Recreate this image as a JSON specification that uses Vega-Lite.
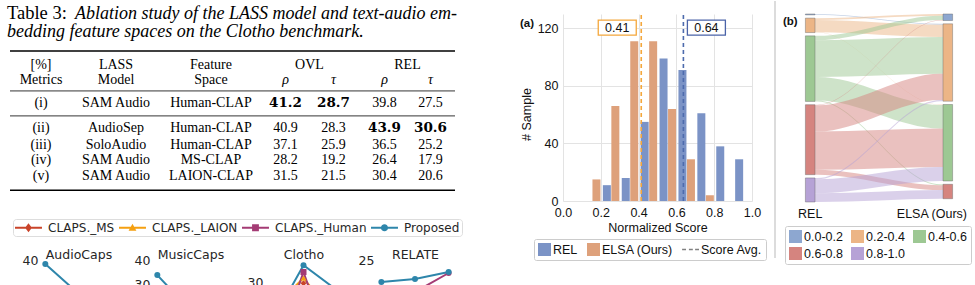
{
  "$schema": "https://vega.github.io/schema/vega-lite/v6.json",
  "padding": 0,
  "background": "white",
  "bounds": "flush",
  "spacing": 24,
  "config": {"view": {"stroke": null}, "font": "Liberation Sans"},
  "resolve": {"scale": {"color": "independent", "fill": "independent", "stroke": "independent", "shape": "independent"}, "legend": {"color": "independent", "fill": "independent", "stroke": "independent", "shape": "independent"}},
  "datasets": {
    "table": [
      {"m": "(i)", "model": "SAM Audio", "space": "Human-CLAP", "or": 41.2, "ot": 28.7, "rr": 39.8, "rt": 27.5},
      {"m": "(ii)", "model": "AudioSep", "space": "Human-CLAP", "or": 40.9, "ot": 28.3, "rr": 43.9, "rt": 30.6},
      {"m": "(iii)", "model": "SoloAudio", "space": "Human-CLAP", "or": 37.1, "ot": 25.9, "rr": 36.5, "rt": 25.2},
      {"m": "(iv)", "model": "SAM Audio", "space": "MS-CLAP", "or": 28.2, "ot": 19.2, "rr": 26.4, "rt": 17.9},
      {"m": "(v)", "model": "SAM Audio", "space": "LAION-CLAP", "or": 31.5, "ot": 21.5, "rr": 30.4, "rt": 20.6}
    ],
    "cols": [
      {"key": "m", "h1": "[%]", "h2": "Metrics", "grp": ""},
      {"key": "model", "h1": "LASS", "h2": "Model", "grp": ""},
      {"key": "space", "h1": "Feature", "h2": "Space", "grp": ""},
      {"key": "or", "h1": "", "h2": "ρ", "grp": "OVL"},
      {"key": "ot", "h1": "", "h2": "τ", "grp": "OVL"},
      {"key": "rr", "h1": "", "h2": "ρ", "grp": "REL"},
      {"key": "rt", "h1": "", "h2": "τ", "grp": "REL"}
    ],
    "perf": [
      {"ds": "AudioCaps", "method": "Proposed", "x": 0, "v": 38.3},
      {"ds": "AudioCaps", "method": "Proposed", "x": 1, "v": 26},
      {"ds": "AudioCaps", "method": "Proposed", "x": 2, "v": 22},
      {"ds": "MusicCaps", "method": "Proposed", "x": 0, "v": 33.7},
      {"ds": "MusicCaps", "method": "Proposed", "x": 1, "v": 19},
      {"ds": "MusicCaps", "method": "Proposed", "x": 2, "v": 16},
      {"ds": "Clotho", "method": "CLAPS._MS", "x": 0, "v": 0},
      {"ds": "Clotho", "method": "CLAPS._MS", "x": 1, "v": 29.6},
      {"ds": "Clotho", "method": "CLAPS._MS", "x": 2, "v": 0},
      {"ds": "Clotho", "method": "CLAPS._LAION", "x": 0, "v": 19.9},
      {"ds": "Clotho", "method": "CLAPS._LAION", "x": 1, "v": 31.4},
      {"ds": "Clotho", "method": "CLAPS._LAION", "x": 2, "v": 16.8},
      {"ds": "Clotho", "method": "CLAPS._Human", "x": 0, "v": 0},
      {"ds": "Clotho", "method": "CLAPS._Human", "x": 1, "v": 33.5},
      {"ds": "Clotho", "method": "CLAPS._Human", "x": 2, "v": 0},
      {"ds": "Clotho", "method": "Proposed", "x": 0, "v": 15},
      {"ds": "Clotho", "method": "Proposed", "x": 1, "v": 35.9},
      {"ds": "Clotho", "method": "Proposed", "x": 2, "v": 27.2},
      {"ds": "RELATE", "method": "CLAPS._Human", "x": 0, "v": 5},
      {"ds": "RELATE", "method": "CLAPS._Human", "x": 1, "v": 9},
      {"ds": "RELATE", "method": "CLAPS._Human", "x": 2, "v": 18.5},
      {"ds": "RELATE", "method": "Proposed", "x": 0, "v": 14},
      {"ds": "RELATE", "method": "Proposed", "x": 1, "v": 15.5},
      {"ds": "RELATE", "method": "Proposed", "x": 2, "v": 19}
    ],
    "hist": [
      {"series": "ELSA (Ours)", "score": 0.177, "count": 15},
      {"series": "ELSA (Ours)", "score": 0.277, "count": 66},
      {"series": "ELSA (Ours)", "score": 0.377, "count": 111},
      {"series": "ELSA (Ours)", "score": 0.477, "count": 111},
      {"series": "ELSA (Ours)", "score": 0.577, "count": 64},
      {"series": "ELSA (Ours)", "score": 0.677, "count": 29},
      {"series": "ELSA (Ours)", "score": 0.777, "count": 4},
      {"series": "REL", "score": 0.232, "count": 11},
      {"series": "REL", "score": 0.332, "count": 16},
      {"series": "REL", "score": 0.432, "count": 55},
      {"series": "REL", "score": 0.532, "count": 99},
      {"series": "REL", "score": 0.632, "count": 91},
      {"series": "REL", "score": 0.732, "count": 61},
      {"series": "REL", "score": 0.832, "count": 38},
      {"series": "REL", "score": 0.932, "count": 29}
    ],
    "avgs": [
      {"series": "REL", "avg": 0.637},
      {"series": "ELSA (Ours)", "avg": 0.414}
    ],
    "links": [
      {"src": "0.0-0.2", "tgt": "0.2-0.4", "n": 2},
      {"src": "0.2-0.4", "tgt": "0.0-0.2", "n": 4},
      {"src": "0.2-0.4", "tgt": "0.2-0.4", "n": 28},
      {"src": "0.2-0.4", "tgt": "0.4-0.6", "n": 1},
      {"src": "0.4-0.6", "tgt": "0.0-0.2", "n": 10},
      {"src": "0.4-0.6", "tgt": "0.2-0.4", "n": 84},
      {"src": "0.4-0.6", "tgt": "0.4-0.6", "n": 54},
      {"src": "0.4-0.6", "tgt": "0.6-0.8", "n": 2},
      {"src": "0.6-0.8", "tgt": "0.0-0.2", "n": 1},
      {"src": "0.6-0.8", "tgt": "0.2-0.4", "n": 60},
      {"src": "0.6-0.8", "tgt": "0.4-0.6", "n": 88},
      {"src": "0.6-0.8", "tgt": "0.6-0.8", "n": 11},
      {"src": "0.8-1.0", "tgt": "0.2-0.4", "n": 3},
      {"src": "0.8-1.0", "tgt": "0.4-0.6", "n": 32},
      {"src": "0.8-1.0", "tgt": "0.6-0.8", "n": 20}
    ]
  },
  "hconcat": [
    {
      "width": 539,
      "height": 285,
      "resolve": {
        "scale": {"x": "independent", "y": "independent", "color": "independent", "fill": "independent", "stroke": "independent", "shape": "independent"},
        "axis": {"x": "independent", "y": "independent"},
        "legend": {"color": "independent", "fill": "independent", "stroke": "independent", "shape": "independent"}
      },
      "layer": [
        {
          "data": {"values": [{}]},
          "layer": [
            {"mark": {"type": "text", "text": "Table 3:", "font": "Liberation Serif", "fontSize": 18.5, "align": "left", "baseline": "alphabetic", "dx": -3, "color": "#000"},
             "encoding": {"x": {"datum": -1, "type": "quantitative", "scale": {"domain": [-1,0,1,2,3,4,5,6,7], "range": [10,41,116,211,285.5,333.5,384.5,430.5,455], "nice": false, "zero": false}, "axis": null},
                          "y": {"datum": 0, "type": "quantitative", "scale": {"domain": [0,1,2,3,4,5,6,7,8,9], "range": [18,36,67.7,82.7,106,130.7,147.7,163.3,179,189.3], "nice": false, "zero": false}, "axis": null}}},
            {"mark": {"type": "text", "text": "Ablation study of the LASS model and text-audio em-", "font": "Liberation Serif", "fontSize": 18, "fontStyle": "italic", "align": "left", "baseline": "alphabetic", "dx": 65, "color": "#000"},
             "encoding": {"x": {"datum": -1, "type": "quantitative", "axis": null}, "y": {"datum": 0, "type": "quantitative", "axis": null}}},
            {"mark": {"type": "text", "text": "bedding feature spaces on the Clotho benchmark.", "font": "Liberation Serif", "fontSize": 18, "fontStyle": "italic", "align": "left", "baseline": "alphabetic", "dx": -3, "color": "#000"},
             "encoding": {"x": {"datum": -1, "type": "quantitative", "axis": null}, "y": {"datum": 1, "type": "quantitative", "axis": null}}},
            {"mark": {"type": "rule", "strokeWidth": 1.4, "color": "#000"},
             "encoding": {"x": {"datum": -1, "type": "quantitative", "axis": null}, "x2": {"datum": 7}, "y": {"datum": 1.44, "type": "quantitative", "axis": null}}},
            {"mark": {"type": "rule", "strokeWidth": 0.8, "color": "#000"},
             "encoding": {"x": {"datum": -1, "type": "quantitative", "axis": null}, "x2": {"datum": 7}, "y": {"datum": 3.31, "type": "quantitative", "axis": null}}},
            {"mark": {"type": "rule", "strokeWidth": 0.8, "color": "#000"},
             "encoding": {"x": {"datum": -1, "type": "quantitative", "axis": null}, "x2": {"datum": 7}, "y": {"datum": 4.36, "type": "quantitative", "axis": null}}},
            {"mark": {"type": "rule", "strokeWidth": 1.4, "color": "#000"},
             "encoding": {"x": {"datum": -1, "type": "quantitative", "axis": null}, "x2": {"datum": 7}, "y": {"datum": 9, "type": "quantitative", "axis": null}}},
            {"data": {"name": "cols"},
             "transform": [{"calculate": "indexof(['m','model','space','or','ot','rr','rt'], datum.key)", "as": "c"}, {"filter": "datum.h1 !== ''"}],
             "mark": {"type": "text", "font": "Liberation Serif", "fontSize": 14, "baseline": "alphabetic", "color": "#000"},
             "encoding": {"x": {"field": "c", "type": "quantitative", "axis": null}, "y": {"datum": 2, "type": "quantitative", "axis": null}, "text": {"field": "h1"}}},
            {"data": {"name": "cols"},
             "transform": [{"calculate": "indexof(['m','model','space','or','ot','rr','rt'], datum.key)", "as": "c"}, {"filter": "datum.grp !== ''"}, {"aggregate": [{"op": "mean", "field": "c", "as": "c"}], "groupby": ["grp"]}],
             "mark": {"type": "text", "font": "Liberation Serif", "fontSize": 14, "baseline": "alphabetic", "color": "#000"},
             "encoding": {"x": {"field": "c", "type": "quantitative", "axis": null}, "y": {"datum": 2, "type": "quantitative", "axis": null}, "text": {"field": "grp"}}},
            {"data": {"name": "cols"},
             "transform": [{"calculate": "indexof(['m','model','space','or','ot','rr','rt'], datum.key)", "as": "c"}, {"filter": "datum.c < 3"}],
             "mark": {"type": "text", "font": "Liberation Serif", "fontSize": 14, "baseline": "alphabetic", "color": "#000"},
             "encoding": {"x": {"field": "c", "type": "quantitative", "axis": null}, "y": {"datum": 3, "type": "quantitative", "axis": null}, "text": {"field": "h2"}}},
            {"data": {"name": "cols"},
             "transform": [{"calculate": "indexof(['m','model','space','or','ot','rr','rt'], datum.key)", "as": "c"}, {"filter": "datum.c >= 3"}],
             "mark": {"type": "text", "font": "Liberation Serif", "fontSize": 14, "fontStyle": "italic", "baseline": "alphabetic", "color": "#000"},
             "encoding": {"x": {"field": "c", "type": "quantitative", "axis": null}, "y": {"datum": 3, "type": "quantitative", "axis": null}, "text": {"field": "h2"}}},
            {"data": {"name": "table"},
             "transform": [
               {"window": [{"op": "row_number", "as": "rn"}]},
               {"fold": ["m", "model", "space", "or", "ot", "rr", "rt"], "as": ["key", "value"]},
               {"calculate": "indexof(['m','model','space','or','ot','rr','rt'], datum.key)", "as": "c"},
               {"calculate": "datum.rn + 3", "as": "r"},
               {"joinaggregate": [{"op": "max", "field": "value", "as": "mx"}], "groupby": ["key"]},
               {"filter": "datum.c < 3 || datum.value !== datum.mx"}
             ],
             "mark": {"type": "text", "font": "Liberation Serif", "fontSize": 14, "baseline": "alphabetic", "color": "#000"},
             "encoding": {"x": {"field": "c", "type": "quantitative", "axis": null}, "y": {"field": "r", "type": "quantitative", "axis": null}, "text": {"field": "value", "type": "nominal"}}},
            {"data": {"name": "table"},
             "transform": [
               {"window": [{"op": "row_number", "as": "rn"}]},
               {"fold": ["m", "model", "space", "or", "ot", "rr", "rt"], "as": ["key", "value"]},
               {"calculate": "indexof(['m','model','space','or','ot','rr','rt'], datum.key)", "as": "c"},
               {"calculate": "datum.rn + 3", "as": "r"},
               {"joinaggregate": [{"op": "max", "field": "value", "as": "mx"}], "groupby": ["key"]},
               {"filter": "datum.c >= 3 && datum.value === datum.mx"}
             ],
             "mark": {"type": "text", "font": "DejaVu Serif", "fontSize": 13.5, "fontWeight": "bold", "baseline": "alphabetic", "color": "#000"},
             "encoding": {"x": {"field": "c", "type": "quantitative", "axis": null}, "y": {"field": "r", "type": "quantitative", "axis": null}, "text": {"field": "value", "type": "nominal"}}}
          ]
        },
        {
          "data": {"name": "perf"},
          "transform": [{"filter": "datum.ds === 'AudioCaps'"}],
          "encoding": {
            "x": {"field": "x", "type": "quantitative", "scale": {"domain": [-0.1, 2.1], "range": [42, 115], "nice": false, "zero": false}, "axis": {"orient": "top", "values": [-0.1, 1, 2.1], "labels": false, "ticks": false, "domain": false, "title": null, "gridColor": "#e3e3e3"}},
            "y": {"field": "v", "type": "quantitative", "scale": {"domain": [29.17, 40], "range": [285, 259], "nice": false, "zero": false},
                  "axis": {"orient": "left", "offset": -42, "values": [40], "ticks": false, "domain": false, "gridColor": "#e3e3e3", "labelFont": "DejaVu Sans", "labelFontSize": 12.5, "labelColor": "#262626", "labelPadding": 4, "labelFlush": false,
                           "title": "AudioCaps", "titleAngle": 0, "titleAlign": "center", "titleBaseline": "alphabetic", "titleX": 36.5, "titleY": 257, "titleFont": "DejaVu Sans", "titleFontSize": 12.5, "titleFontWeight": "normal", "titleColor": "#262626"}},
            "color": {"field": "method", "type": "nominal", "scale": {"domain": ["CLAPS._MS", "CLAPS._LAION", "CLAPS._Human", "Proposed"], "range": ["#c9442a", "#f5a011", "#a43b74", "#2e86ab"]},
                      "legend": {"orient": "none", "legendX": 13, "legendY": 218, "direction": "horizontal", "columns": 4, "title": null, "symbolSize": 169, "labelFont": "DejaVu Sans", "labelFontSize": 12, "labelColor": "#262626", "labelOffset": 20, "columnPadding": 4, "padding": 2, "strokeColor": "#dddddd", "cornerRadius": 3,
                                 "encode": {"symbols": {"update": {
                                   "shape": {"signal": "datum.value === 'CLAPS._MS' ? 'M-1,-0.15H3.15V0.15H-1Z M1.075,-0.7L1.6,0L1.075,0.7L0.55,0Z' : datum.value === 'CLAPS._LAION' ? 'M-1,-0.15H3.15V0.15H-1Z M1.075,-0.6L1.675,0.45H0.475Z' : datum.value === 'CLAPS._Human' ? 'M-1,-0.15H3.15V0.15H-1Z M0.55,-0.55H1.6V0.55H0.55Z' : 'M-1,-0.15H3.15V0.15H-1Z M1.625,0A0.55,0.55 0 1,1 0.525,0A0.55,0.55 0 1,1 1.625,0Z'"},
                                   "fill": {"signal": "datum.value === 'CLAPS._MS' ? '#c9442a' : datum.value === 'CLAPS._LAION' ? '#f5a011' : datum.value === 'CLAPS._Human' ? '#a43b74' : '#2e86ab'"},
                                   "fillOpacity": {"value": 1},
                                   "opacity": {"value": 1},
                                   "strokeWidth": {"value": 0}}}}}}
          },
          "layer": [
            {"mark": {"type": "line", "strokeWidth": 2, "clip": true}},
            {"mark": {"type": "point", "filled": true, "opacity": 1, "size": 36, "clip": true}}
          ]
        },
        {
          "data": {"name": "perf"},
          "transform": [{"filter": "datum.ds === 'MusicCaps'"}],
          "encoding": {
            "x": {"field": "x", "type": "quantitative", "scale": {"domain": [-0.1, 2.1], "range": [154, 227], "nice": false, "zero": false}, "axis": {"orient": "top", "values": [-0.1, 1, 2.1], "labels": false, "ticks": false, "domain": false, "title": null, "gridColor": "#e3e3e3"}},
            "y": {"field": "v", "type": "quantitative", "scale": {"domain": [29.17, 40], "range": [285, 259], "nice": false, "zero": false},
                  "axis": {"orient": "left", "offset": -154, "values": [30, 40], "ticks": false, "domain": false, "gridColor": "#e3e3e3", "labelFont": "DejaVu Sans", "labelFontSize": 12.5, "labelColor": "#262626", "labelPadding": 4, "labelFlush": false,
                           "title": "MusicCaps", "titleAngle": 0, "titleAlign": "center", "titleBaseline": "alphabetic", "titleX": 36.5, "titleY": 257, "titleFont": "DejaVu Sans", "titleFontSize": 12.5, "titleFontWeight": "normal", "titleColor": "#262626"}},
            "color": {"field": "method", "type": "nominal", "scale": {"domain": ["CLAPS._MS", "CLAPS._LAION", "CLAPS._Human", "Proposed"], "range": ["#c9442a", "#f5a011", "#a43b74", "#2e86ab"]}, "legend": null}
          },
          "layer": [
            {"mark": {"type": "line", "strokeWidth": 2, "clip": true}},
            {"mark": {"type": "point", "filled": true, "opacity": 1, "size": 36, "clip": true}}
          ]
        },
        {
          "data": {"name": "perf"},
          "transform": [{"filter": "datum.ds === 'Clotho'"}],
          "encoding": {
            "x": {"field": "x", "type": "quantitative", "scale": {"domain": [-0.1, 2.1], "range": [267, 340], "nice": false, "zero": false}, "axis": {"orient": "top", "values": [-0.1, 1, 2.1], "labels": false, "ticks": false, "domain": false, "title": null, "gridColor": "#e3e3e3"}},
            "y": {"field": "v", "type": "quantitative", "scale": {"domain": [28.6, 37.7], "range": [285, 259], "nice": false, "zero": false},
                  "axis": {"orient": "left", "offset": -267, "values": [30, 37.7], "labelExpr": "datum.value === 30 ? '30' : ''", "ticks": false, "domain": false, "gridColor": "#e3e3e3", "labelFont": "DejaVu Sans", "labelFontSize": 12.5, "labelColor": "#262626", "labelPadding": 4, "labelFlush": false,
                           "title": "Clotho", "titleAngle": 0, "titleAlign": "center", "titleBaseline": "alphabetic", "titleX": 36.5, "titleY": 257, "titleFont": "DejaVu Sans", "titleFontSize": 12.5, "titleFontWeight": "normal", "titleColor": "#262626"}},
            "color": {"field": "method", "type": "nominal", "scale": {"domain": ["CLAPS._MS", "CLAPS._LAION", "CLAPS._Human", "Proposed"], "range": ["#c9442a", "#f5a011", "#a43b74", "#2e86ab"]}, "legend": null}
          },
          "layer": [
            {"mark": {"type": "line", "strokeWidth": 2, "clip": true}},
            {"mark": {"type": "point", "filled": true, "opacity": 1, "size": 36, "clip": true},
             "encoding": {"shape": {"field": "method", "type": "nominal", "scale": {"domain": ["CLAPS._MS", "CLAPS._LAION", "CLAPS._Human", "Proposed"], "range": ["diamond", "triangle-up", "square", "circle"]}, "legend": null}}}
          ]
        },
        {
          "data": {"name": "perf"},
          "transform": [{"filter": "datum.ds === 'RELATE'"}],
          "encoding": {
            "x": {"field": "x", "type": "quantitative", "scale": {"domain": [-0.1, 2.1], "range": [378, 452], "nice": false, "zero": false}, "axis": {"orient": "top", "values": [-0.1, 1, 2.1], "labels": false, "ticks": false, "domain": false, "title": null, "gridColor": "#e3e3e3"}},
            "y": {"field": "v", "type": "quantitative", "scale": {"domain": [12, 25], "range": [285, 259], "nice": false, "zero": false},
                  "axis": {"orient": "left", "offset": -378, "values": [25], "ticks": false, "domain": false, "gridColor": "#e3e3e3", "labelFont": "DejaVu Sans", "labelFontSize": 12.5, "labelColor": "#262626", "labelPadding": 4, "labelFlush": false,
                           "title": "RELATE", "titleAngle": 0, "titleAlign": "center", "titleBaseline": "alphabetic", "titleX": 37, "titleY": 257, "titleFont": "DejaVu Sans", "titleFontSize": 12.5, "titleFontWeight": "normal", "titleColor": "#262626"}},
            "color": {"field": "method", "type": "nominal", "scale": {"domain": ["CLAPS._MS", "CLAPS._LAION", "CLAPS._Human", "Proposed"], "range": ["#c9442a", "#f5a011", "#a43b74", "#2e86ab"]}, "legend": null}
          },
          "layer": [
            {"mark": {"type": "line", "strokeWidth": 2, "clip": true}},
            {"mark": {"type": "point", "filled": true, "opacity": 1, "size": 36, "clip": true}}
          ]
        }
      ]
    },
    {
      "width": 189,
      "height": 200,
      "resolve": {"axis": {"x": "independent"}},
      "layer": [
        {"data": {"name": "hist"},
         "mark": {"type": "bar", "width": 8},
         "encoding": {
           "x": {"field": "score", "type": "quantitative", "scale": {"domain": [0, 1], "nice": false, "zero": false, "padding": 0},
                 "axis": {"orient": "bottom", "grid": false, "values": [0, 0.2, 0.4, 0.6, 0.8, 1], "format": ".1f", "title": "Normalized Score", "titleFontSize": 12.5, "titleFontWeight": "normal", "titleColor": "#111", "labelFontSize": 12.5, "labelColor": "#111", "labelFlush": false, "domain": false, "ticks": false, "labelPadding": 5, "titlePadding": 3}},
           "y": {"field": "count", "type": "quantitative", "stack": null, "scale": {"domain": [0, 130], "range": [200, 13], "nice": false, "zero": false},
                 "axis": {"values": [0, 20, 40, 60, 80, 100, 120], "title": "# Sample", "titleY": 113, "titleFontSize": 12.5, "titleFontWeight": "normal", "titleColor": "#111", "labelFontSize": 12.5, "labelColor": "#111", "labelFlush": false, "domain": false, "ticks": false, "labelPadding": 5, "titlePadding": 4, "gridColor": "#e3e3e3"}},
           "color": {"field": "series", "type": "nominal", "scale": {"domain": ["REL", "ELSA (Ours)", "Score Avg."], "range": ["#7b93c6", "#dea17b", "#808080"]},
                     "legend": {"orient": "none", "legendX": -29, "legendY": 238, "direction": "horizontal", "title": null, "symbolSize": 169, "symbolStrokeWidth": 0, "labelFontSize": 12.5, "labelColor": "#111", "labelOffset": 2, "columnPadding": 9, "padding": 4, "strokeColor": "#cccccc", "cornerRadius": 2,
                                "encode": {"symbols": {"update": {"shape": {"signal": "datum.value === 'Score Avg.' ? 'M-1.6,-0.12H-1V0.12H-1.6Z M-0.55,-0.12H0.05V0.12H-0.55Z M0.4,-0.12H1V0.12H0.4Z' : 'square'"}}}}}}
         }},
        {"data": {"name": "avgs"},
         "mark": {"type": "rule", "strokeDash": [4, 3], "strokeWidth": 1.6},
         "encoding": {
           "x": {"field": "avg", "type": "quantitative", "axis": {"orient": "top", "values": [0, 0.2, 0.4, 0.6, 0.8, 1], "grid": true, "labels": false, "ticks": false, "domain": false, "title": null, "gridColor": "#e3e3e3"}},
           "y": {"datum": 0, "type": "quantitative"},
           "y2": {"datum": 130},
           "stroke": {"field": "series", "type": "nominal", "scale": {"domain": ["REL", "ELSA (Ours)"], "range": ["#4d6bad", "#f4a73c"]}, "legend": null}
         }},
        {"data": {"name": "avgs"},
         "transform": [{"filter": "datum.series === 'ELSA (Ours)'"}],
         "mark": {"type": "point", "shape": "M-1,-0.395H1V0.395H-1Z", "size": 1444, "filled": true, "fill": "white", "stroke": "#f4a73c", "strokeWidth": 1.3, "opacity": 1, "xOffset": -24},
         "encoding": {"x": {"field": "avg", "type": "quantitative", "axis": null}, "y": {"datum": 120.5, "type": "quantitative"}}},
        {"data": {"name": "avgs"},
         "transform": [{"filter": "datum.series === 'ELSA (Ours)'"}],
         "mark": {"type": "text", "fontSize": 12.5, "dx": -24, "baseline": "middle", "color": "#111"},
         "encoding": {"x": {"field": "avg", "type": "quantitative", "axis": null}, "y": {"datum": 120.5, "type": "quantitative"}, "text": {"field": "avg", "type": "quantitative", "format": ".2f"}}},
        {"data": {"name": "avgs"},
         "transform": [{"filter": "datum.series === 'REL'"}],
         "mark": {"type": "point", "shape": "M-1,-0.395H1V0.395H-1Z", "size": 1444, "filled": true, "fill": "white", "stroke": "#4a63a8", "strokeWidth": 1.3, "opacity": 1, "xOffset": 23},
         "encoding": {"x": {"field": "avg", "type": "quantitative", "axis": null}, "y": {"datum": 120.5, "type": "quantitative"}}},
        {"data": {"name": "avgs"},
         "transform": [{"filter": "datum.series === 'REL'"}],
         "mark": {"type": "text", "fontSize": 12.5, "dx": 23, "baseline": "middle", "color": "#111"},
         "encoding": {"x": {"field": "avg", "type": "quantitative", "axis": null}, "y": {"datum": 120.5, "type": "quantitative"}, "text": {"field": "avg", "type": "quantitative", "format": ".2f"}}},
        {"data": {"values": [{}]},
         "mark": {"type": "text", "text": "(a)", "fontSize": 11.5, "fontWeight": "bold", "align": "left", "baseline": "middle", "color": "#111"},
         "encoding": {"x": {"datum": -0.2275, "type": "quantitative", "axis": null}, "y": {"datum": 123.3, "type": "quantitative"}}}
      ]
    },
    {
      "width": 199,
      "height": 257,
      "data": {"name": "links"},
      "layer": [
        {"mark": {"type": "rule", "color": "#d0d0d0", "strokeWidth": 1.5, "xOffset": -1},
         "data": {"values": [{}]},
         "encoding": {"x": {"datum": -0.3047, "type": "quantitative", "scale": {"domain": [-0.3047, 1.25], "nice": false, "zero": false}, "axis": null}}},
        {"transform": [
           {"calculate": "indexof(['0.0-0.2','0.2-0.4','0.4-0.6','0.6-0.8','0.8-1.0'], datum.src)", "as": "si"},
           {"calculate": "indexof(['0.0-0.2','0.2-0.4','0.4-0.6','0.6-0.8','0.8-1.0'], datum.tgt)", "as": "ti"},
           {"window": [{"op": "sum", "field": "n", "as": "cl"}], "sort": [{"field": "si"}, {"field": "ti"}], "frame": [null, 0]},
           {"window": [{"op": "sum", "field": "n", "as": "cr"}], "sort": [{"field": "ti"}, {"field": "si"}], "frame": [null, 0]},
           {"calculate": "datum.cl + datum.si * 7.5", "as": "ly1"},
           {"calculate": "datum.ly1 - datum.n", "as": "ly0"},
           {"calculate": "datum.cr + datum.ti * 7.5", "as": "ry1"},
           {"calculate": "datum.ry1 - datum.n", "as": "ry0"},
           {"calculate": "datum.src + '>' + datum.tgt", "as": "id"},
           {"calculate": "[0, 0.02, 0.98, 1]", "as": "p"},
           {"flatten": ["p"]},
           {"calculate": "datum.p < 0.5 ? datum.ly0 : datum.ry0", "as": "yt"},
           {"calculate": "datum.p < 0.5 ? datum.ly1 : datum.ry1", "as": "yb"}
         ],
         "mark": {"type": "area", "interpolate": "monotone", "opacity": 0.5},
         "encoding": {
           "x": {"field": "p", "type": "quantitative", "axis": null},
           "y": {"field": "yt", "type": "quantitative", "stack": null, "scale": {"domain": [-29.7, 558.1], "reverse": true, "nice": false, "zero": false}, "axis": null},
           "y2": {"field": "yb"},
           "detail": {"field": "id"},
           "color": {"field": "src", "type": "nominal", "scale": {"domain": ["0.0-0.2", "0.2-0.4", "0.4-0.6", "0.6-0.8", "0.8-1.0"], "range": ["#8da7d0", "#ecb586", "#9dc893", "#d5847f", "#b6a2d6"]},
                     "legend": {"orient": "none", "legendX": 9, "legendY": 225, "columns": 3, "direction": "horizontal", "title": null, "symbolType": "square", "symbolSize": 169, "symbolOpacity": 1, "symbolStrokeWidth": 0, "labelFontSize": 12.5, "labelColor": "#111", "labelOffset": 2, "columnPadding": 8, "rowPadding": 4, "padding": 4, "strokeColor": "#cccccc", "cornerRadius": 2}}
         }},
        {"transform": [
           {"aggregate": [{"op": "sum", "field": "n", "as": "tot"}], "groupby": ["src"]},
           {"calculate": "indexof(['0.0-0.2','0.2-0.4','0.4-0.6','0.6-0.8','0.8-1.0'], datum.src)", "as": "i"},
           {"window": [{"op": "sum", "field": "tot", "as": "cum"}], "sort": [{"field": "i"}], "frame": [null, 0]},
           {"calculate": "datum.cum + datum.i * 7.5", "as": "y1"},
           {"calculate": "datum.y1 - datum.tot", "as": "y0"}
         ],
         "mark": {"type": "rect", "stroke": "#666666", "strokeWidth": 0.7, "strokeOpacity": 0.6},
         "encoding": {
           "x": {"datum": -0.075, "type": "quantitative", "axis": null},
           "x2": {"datum": 0},
           "y": {"field": "y0", "type": "quantitative", "axis": null},
           "y2": {"field": "y1"},
           "color": {"field": "src", "type": "nominal"}
         }},
        {"transform": [
           {"aggregate": [{"op": "sum", "field": "n", "as": "tot"}], "groupby": ["tgt"]},
           {"calculate": "indexof(['0.0-0.2','0.2-0.4','0.4-0.6','0.6-0.8','0.8-1.0'], datum.tgt)", "as": "i"},
           {"window": [{"op": "sum", "field": "tot", "as": "cum"}], "sort": [{"field": "i"}], "frame": [null, 0]},
           {"calculate": "datum.cum + datum.i * 7.5", "as": "y1"},
           {"calculate": "datum.y1 - datum.tot", "as": "y0"}
         ],
         "mark": {"type": "rect", "stroke": "#666666", "strokeWidth": 0.7, "strokeOpacity": 0.6},
         "encoding": {
           "x": {"datum": 1, "type": "quantitative", "axis": null},
           "x2": {"datum": 1.075},
           "y": {"field": "y0", "type": "quantitative", "axis": null},
           "y2": {"field": "y1"},
           "color": {"field": "tgt", "type": "nominal"}
         }},
        {"data": {"values": [{}]},
         "mark": {"type": "text", "text": "REL", "fontSize": 12.5, "baseline": "middle", "align": "center", "color": "#111"},
         "encoding": {"x": {"datum": -0.0375, "type": "quantitative", "axis": null}, "y": {"datum": 457.5, "type": "quantitative", "axis": null}}},
        {"data": {"values": [{}]},
         "mark": {"type": "text", "text": "ELSA (Ours)", "fontSize": 12.5, "baseline": "middle", "align": "right", "color": "#111"},
         "encoding": {"x": {"datum": 1.1875, "type": "quantitative", "axis": null}, "y": {"datum": 457.5, "type": "quantitative", "axis": null}}},
        {"data": {"values": [{}]},
         "mark": {"type": "text", "text": "(b)", "fontSize": 11.5, "fontWeight": "bold", "baseline": "middle", "align": "left", "color": "#111"},
         "encoding": {"x": {"datum": -0.25, "type": "quantitative", "axis": null}, "y": {"datum": 18.3, "type": "quantitative", "axis": null}}}
      ]
    }
  ]
}
